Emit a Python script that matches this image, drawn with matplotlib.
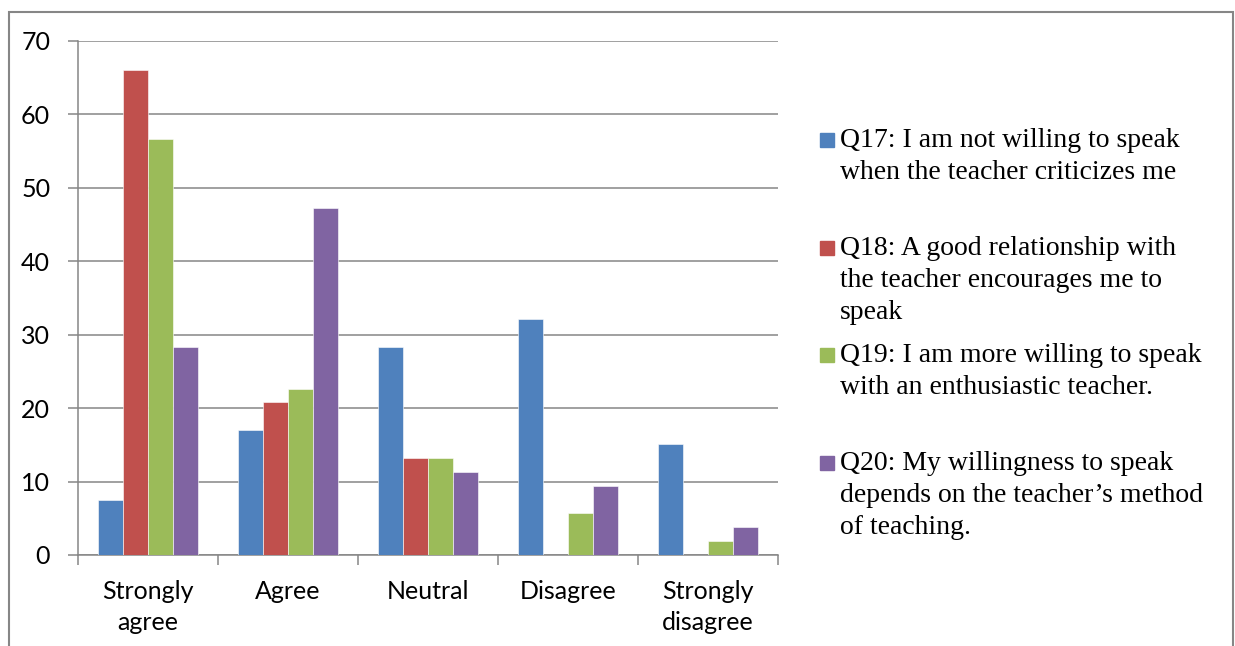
import numpy as np
import matplotlib
matplotlib.use("Agg")
from matplotlib import pyplot as plt
from matplotlib.patches import Rectangle

# data (percent of respondents)
categories = ["Strongly\nagree", "Agree", "Neutral", "Disagree", "Strongly\ndisagree"]
q17 = [7.5, 17.0, 28.3, 32.1, 15.1]
q18 = [66.0, 20.8, 13.2, 0.0, 0.0]
q19 = [56.6, 22.6, 13.2, 5.7, 1.9]
q20 = [28.3, 47.2, 11.3, 9.4, 3.8]
series = [q17, q18, q19, q20]
labels = [["Q17: I am not willing to speak", "when the teacher criticizes me"],
          ["Q18: A good relationship with", "the teacher encourages me to", "speak"],
          ["Q19: I am more willing to speak", "with an enthusiastic teacher."],
          ["Q20: My willingness to speak", "depends on the teacher\u2019s method", "of teaching."]]
colors = ["#4F81BD", "#C0504D", "#9BBB59", "#8064A2"]
yticks = [0, 10, 20, 30, 40, 50, 60, 70]

grey = "#868686"
W, H = 1235, 646
fig = plt.figure(figsize=(W/100, H/100), dpi=100)
ax = fig.add_axes([78/W, 1-555/H, 700/W, 514/H])

x = np.arange(len(categories))
bw = 0.179
for i, s in enumerate(series):
    ax.bar(x + (i-1.5)*bw, s, bw, color=colors[i], edgecolor="white", linewidth=0.4, zorder=3)

ax.set_xlim(-0.5, len(categories)-0.5)
ax.set_ylim(0, 70)
ax.set_yticks(yticks)
ax.yaxis.grid(True, color=grey, linewidth=1.1, zorder=0)
ax.set_axisbelow(True)
for sp in ["top", "right"]:
    ax.spines[sp].set_visible(False)
for sp in ["left", "bottom"]:
    ax.spines[sp].set_color(grey)
    ax.spines[sp].set_linewidth(1.1)

# category boundaries as major ticks, labels on minor ticks
ax.set_xticks(np.arange(len(categories)+1) - 0.5)
ax.set_xticklabels([])
ax.set_xticks(x, minor=True)
ax.set_xticklabels(categories, minor=True, fontfamily="Lato", fontsize=18, linespacing=1.42, va="top")
ax.tick_params(axis="x", which="major", length=7, color=grey, width=1.1)
ax.tick_params(axis="x", which="minor", length=0, pad=18)
ax.tick_params(axis="y", length=7, color=grey, width=1.1, pad=13, labelsize=18)
for t in ax.get_yticklabels():
    t.set_fontfamily("Lato")

# legend drawn by hand, fixed slots
for i, lines in enumerate(labels):
    base = 147 + i*107.7
    fig.patches.append(Rectangle((820/W, 1-base/H), 14/W, 14/H,
                                 transform=fig.transFigure, color=colors[i]))
    for j, ln in enumerate(lines):
        fig.text(840/W, 1-(base + 32*j)/H, ln, fontfamily="Liberation Serif", fontsize=20,
                 va="baseline", ha="left")

# outer frame
fig.patches.append(Rectangle((8.5/W, -0.1), (1233-8.5)/W, 1.1-11.5/H, transform=fig.transFigure,
                             fill=False, edgecolor=grey, linewidth=1.5, clip_on=False))

fig.savefig("out.png", dpi=100)
